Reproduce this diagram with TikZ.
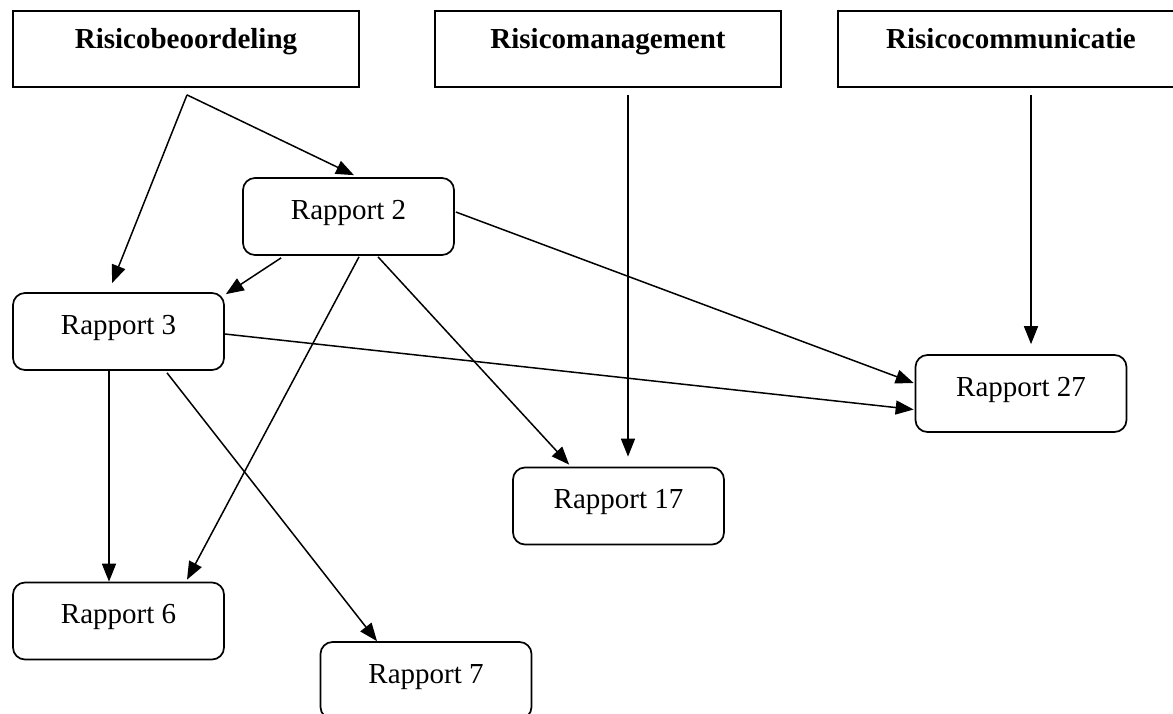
\documentclass[tikz,border=0pt]{standalone}
\usepackage{fontspec}
\setmainfont{Liberation Serif}
\usetikzlibrary{arrows.meta,calc}
\tikzset{
 topbox/.style={draw, line width=1.8pt, minimum width=346pt, minimum height=76pt, inner sep=0pt, text height=19pt, text depth=21pt, font=\fontsize{29}{33}\selectfont\bfseries},
 rbox/.style={draw, line width=1.7pt, rounded corners=12pt, minimum width=211pt, minimum height=77pt, inner sep=0pt, text height=19pt, text depth=14pt, font=\fontsize{29}{33}\selectfont},
 arr/.style={line width=1.5pt, -{Triangle[length=18pt,width=14pt]}}
}
\begin{document}
\begin{tikzpicture}[x=1pt,y=-1pt]
\useasboundingbox (0,0) rectangle (1173,713);
\clip (0,0) rectangle (1173,713);
\node[topbox] (B1) at (186,49) {Risicobeoordeling};
\node[topbox] (B2) at (608,49) {Risicomanagement};
\node[topbox] (B3) at (1011,49) {Risicocommunicatie};
\node[rbox] (R2) at (348.5,216.5) {Rapport 2};
\node[rbox] (R3) at (118.5,331.5) {Rapport 3};
\node[rbox] (R27) at (1021,393.5) {Rapport 27};
\node[rbox] (R17) at (618.5,506) {Rapport 17};
\node[rbox] (R6) at (118.5,621) {Rapport 6};
\node[rbox] (R7) at (426,680.5) {Rapport 7};
\coordinate (v1) at ($(B1.south)+(1,7)$);
\coordinate (m1) at ($(B2.south)+(20,7)$);
\coordinate (c1) at ($(B3.south)+(20,7)$);
\draw[arr] (v1) -- ($(R2.north)+(5.5,-2)$);
\draw[arr] (v1) -- ($(R3.north)+(-6.5,-9)$);
\draw[arr] ($(R2.south west)+(39,2)$) -- ($(R3.north east)+(1,2)$);
\draw[arr] ($(R2.south)+(10.5,1)$) -- ($(R6.north)+(68.5,-2)$);
\draw[arr] ($(R2.south)+(29.5,1)$) -- ($(R17.north west)+(57,-2)$);
\draw[arr] ($(R2.east)+(1,-4.5)$) -- ($(R27.west)+(-1,-10.5)$);
\draw[arr] ($(R3.east)+(0,2.5)$) -- ($(R27.west)+(-1,16)$);
\draw[arr] ($(R3.south)+(-9.5,0)$) -- ($(R6.north)+(-9.5,0)$);
\draw[arr] ($(R3.south)+(48.5,2)$) -- ($(R7.north)+(-49,0)$);
\draw[arr] (m1) -- ($(m1 |- R17.north)+(0,-10)$);
\draw[arr] (c1) -- ($(c1 |- R27.north)+(0,-10)$);
\end{tikzpicture}
\end{document}
